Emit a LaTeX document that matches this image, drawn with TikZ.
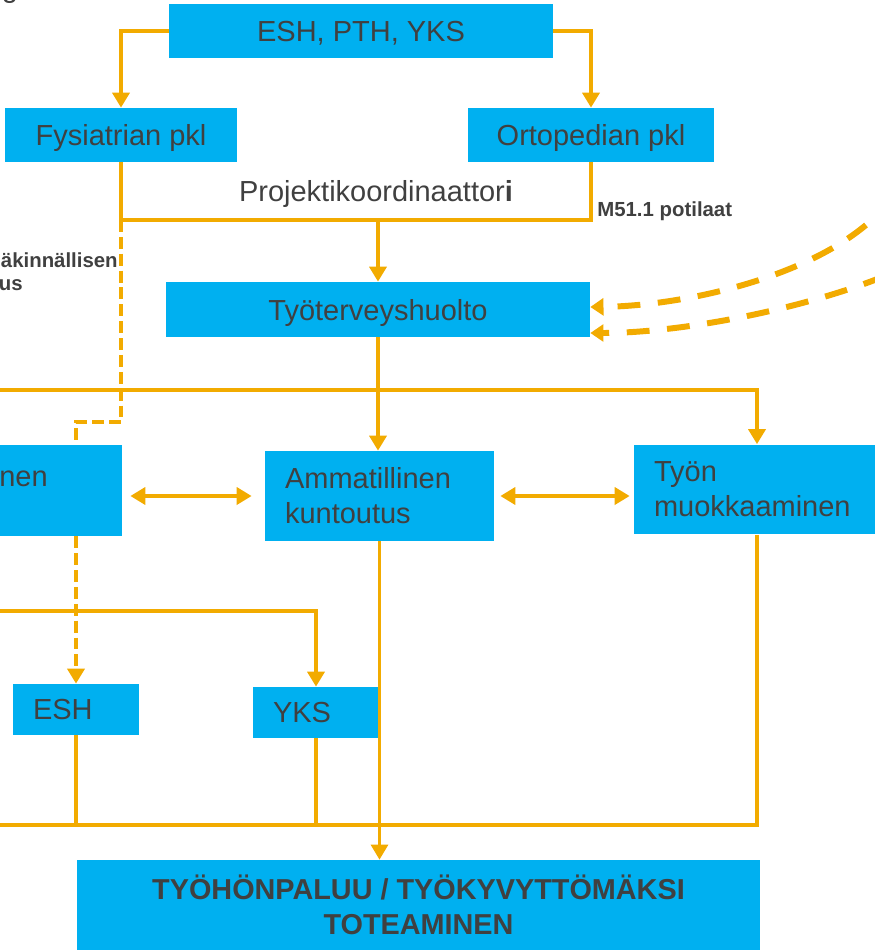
\documentclass[tikz,border=0pt]{standalone}
\usepackage{fontspec}
\setmainfont{Liberation Sans}
\usepackage{tikz}
\usetikzlibrary{arrows.meta}
\usetikzlibrary{calc}
\definecolor{boxblue}{HTML}{00B0F0}
\definecolor{lineorange}{HTML}{F2AB00}
\definecolor{textgray}{HTML}{404040}
\newcommand{\mainfs}{\fontsize{16.5}{19.8}\selectfont}
\newcommand{\notefs}{\fontsize{11.6}{13.4}\selectfont\bfseries}

\begin{document}
\begin{tikzpicture}[x=0.02cm, y=-0.02cm,
    box/.style={fill=boxblue, text=textgray, inner sep=0pt, font=\mainfs},
    onebox/.style={box, text depth=0pt},
    leftbox/.style={box, align=left, inner xsep=0.4cm},
    conn/.style={lineorange, line width=2.5pt},
    arr/.style={conn, -{Triangle[width=9.6pt,length=8.5pt]}},
    darr/.style={conn, {Triangle[width=9.6pt,length=8.5pt]}-{Triangle[width=9.6pt,length=8.5pt]}},
    dline/.style={conn, dash pattern=on 6.8pt off 2.8pt},
    curved/.style={lineorange, line width=3.4pt, dash pattern=on 13pt off 10pt, -{Triangle[width=9.6pt,length=7.5pt]}},
    note/.style={text=textgray, font=\notefs, inner sep=0pt}]
		\useasboundingbox (0,0) rectangle (875,950);
		\clip (0,0) rectangle (875,950);
		% boxes
		\node[onebox, minimum width=7.68cm, minimum height=1.08cm] (top) at (361,31) {ESH, PTH, YKS};
		\node[onebox, minimum width=4.64cm, minimum height=1.08cm] (fys) at (121,135) {Fysiatrian pkl};
		\node[onebox, minimum width=4.92cm, minimum height=1.08cm] (orto) at (591,135) {Ortopedian pkl};
		\node[onebox, minimum width=8.48cm, minimum height=1.1cm] (tth) at (378,309.5) {Työterveyshuolto};
		\node[box, minimum width=2.54cm, minimum height=1.82cm] (laak) at (58.5,490.5) {};
		\node[box, fill=none, anchor=base west] (laaktxt) at (-1,486) {nen};
		\node[leftbox, minimum width=4.58cm, text width=3.78cm, minimum height=1.8cm] (amm) at (379.5,496) {Ammatillinen\\kuntoutus};
		\node[leftbox, minimum width=4.92cm, text width=4.12cm, minimum height=1.8cm] (tyon) at (757,489.5) {Työn\\muokkaaminen};
		\node[leftbox, onebox, minimum width=2.52cm, text width=1.72cm, minimum height=1.02cm] (esh) at (76,709.5) {ESH};
		\node[leftbox, onebox, minimum width=2.52cm, text width=1.72cm, minimum height=1.02cm] (yks) at (316,712.5) {YKS};
		\node[box, minimum width=13.66cm, minimum height=1.8cm, align=center,
		      font=\fontsize{16.4}{19.8}\selectfont\bfseries] (fin) at (418.5,905) {TYÖHÖNPALUU / TYÖKYVYTTÖMÄKSI\\TOTEAMINEN};
		% labels
		\node[text=textgray, font=\mainfs, anchor=base] (gfrag) at (10,-3) {g};
		\node[text=textgray, font=\mainfs] (proj) at (376,194) {Projektikoordinaattor\textbf{i}};
		\node[note, anchor=west] (m51) at (597,211) {M51.1 potilaat};
		\node[note, anchor=base east] (laakl1) at (118,267) {äkinnällisen};
		\node[note, anchor=base east] (laakl2) at (23,290) {us};
		% coordinates for the bus lines
		\coordinate (pk) at (378,220);
		\coordinate (dj) at (76,422);
		\coordinate (hl) at (-5,390);
		\coordinate (ml) at (-5,611);
		\coordinate (bl) at (-5,825);
		% top part
		\draw[arr] (top.west) -| (fys.north);
		\draw[arr] (top.east) -| (orto.north);
		\draw[conn] (fys.south) |- (pk) -| (orto.south);
		\draw[arr] (pk) -- (tth.north);
		\draw[curved] (866,225) .. controls (800,280) and (680,306) .. ([yshift=0.05cm]tth.east);
		\draw[curved] (885,276) .. controls (800,310) and (680,333) .. ([yshift=-0.47cm]tth.east);
		% dashed route
		\draw[dline] (fys.south |- pk) |- (dj) -- (laak.north -| dj);
		\draw[dline, -{Triangle[width=9.6pt,length=8.5pt]}] (laak.south -| dj) -- (esh.north);
		% middle part
		\draw[arr] (tth.south) -- (tth.south |- amm.north);
		\draw[arr] (hl) -| (tyon.north);
		\draw[darr, shorten <=0.16cm, shorten >=0.26cm] (laak.east |- amm.west) -- (amm.west);
		\draw[darr, shorten <=0.12cm, shorten >=0.08cm] (amm.east) -- (tyon.west |- amm.east);
		\draw[arr] (ml) -| (yks.north);
		% bottom part
		\draw[conn] (bl) -| (tyon.south);
		\draw[conn] (esh.south) -- (esh.south |- bl);
		\draw[conn] (yks.south) -- (yks.south |- bl);
		\draw[arr, line width=1.8pt] (amm.south) -- (amm.south |- fin.north);
\end{tikzpicture}
\end{document}
